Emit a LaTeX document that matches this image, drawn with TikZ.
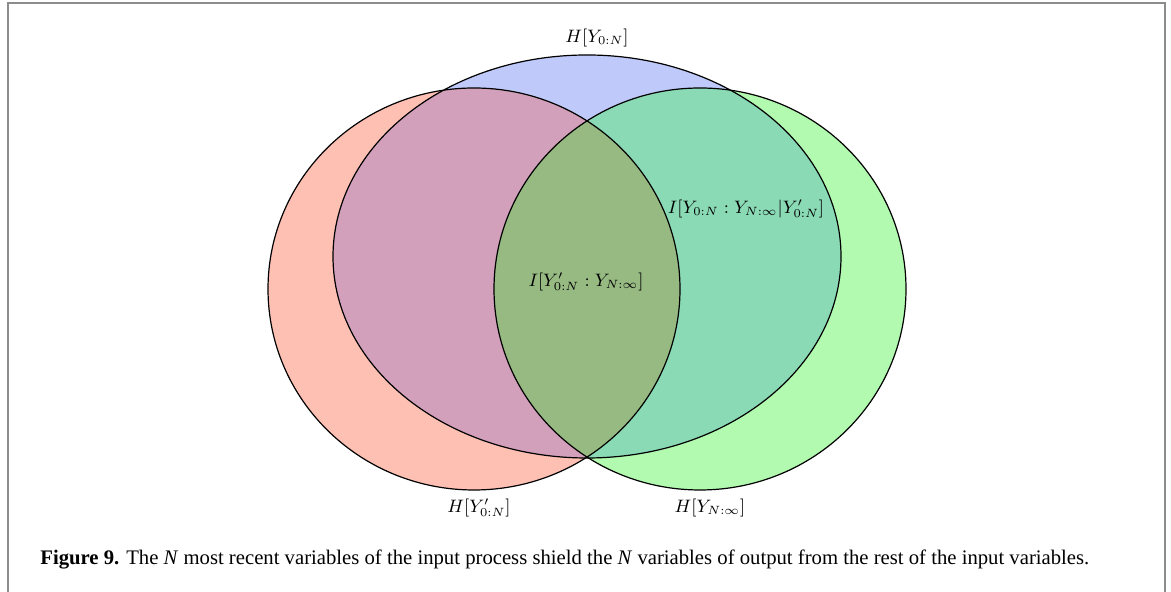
\documentclass[tikz,border=0pt]{standalone}
\usepackage{amsmath}
\usepackage{amssymb}
\usepackage{fontspec}
\newfontfamily\capfont{Liberation Serif}
\usepackage{tikz}

\definecolor{vennred}{RGB}{255,192,180}
\definecolor{venngreen}{RGB}{178,250,175}
\definecolor{vennblue}{RGB}{192,202,250}
\definecolor{vennrb}{RGB}{210,160,186}
\definecolor{venngb}{RGB}{138,218,182}
\definecolor{vennall}{RGB}{150,186,130}
\definecolor{framegray}{RGB}{140,140,140}

\tikzset{
  vlabel/.style={inner sep=1pt,font=\fontsize{9.2}{11}\selectfont},
  vline/.style={draw=black,line width=0.6pt}
}

\begin{document}
\begin{tikzpicture}[x=0.5pt,y=0.5pt]
\useasboundingbox (0,0) rectangle (1171,592);
\draw[framegray,line width=1.2pt] (8,0) -- (8,589) -- (1165,589) -- (1165,0);

% the three sets
\fill[vennred]   (474,303) ellipse [x radius=206, y radius=201];
\fill[venngreen] (700,303) ellipse [x radius=206, y radius=201];
\fill[vennblue]  (587,335.5) ellipse [x radius=254, y radius=201.5];
\begin{scope}
\clip (587,335.5) ellipse [x radius=254, y radius=201.5];
\fill[vennrb] (474,303) ellipse [x radius=206, y radius=201];
\fill[venngb] (700,303) ellipse [x radius=206, y radius=201];
\clip (474,303) ellipse [x radius=206, y radius=201];
\fill[vennall] (700,303) ellipse [x radius=206, y radius=201];
\end{scope}
\foreach \cx/\cy/\rx/\ry in {474/303/206/201, 700/303/206/201, 587/335.5/254/201.5}
  \draw[vline] (\cx,\cy) ellipse [x radius=\rx, y radius=\ry];

\node[vlabel] (hy)   at (597,554) {$H[Y_{0:N}]$};
\node[vlabel] (hyp)  at (479,84)  {$H[Y'_{0:N}]$};
\node[vlabel] (hfut) at (710,84)  {$H[Y_{N:\infty}]$};
\node[vlabel] (icond) at (746,383) {$I[Y_{0:N}:Y_{N:\infty}|Y'_{0:N}]$};
\node[vlabel] (ishared) at (586,310) {$I[Y'_{0:N}:Y_{N:\infty}]$};

\node[anchor=west,inner sep=0pt] (caption) at (40,32)
  {\capfont\fontsize{10.35}{12}\selectfont\textbf{Figure 9.} The \textit{N} most recent variables of the input process shield the \textit{N} variables of output from the rest of the input variables.};
\end{tikzpicture}
\end{document}
